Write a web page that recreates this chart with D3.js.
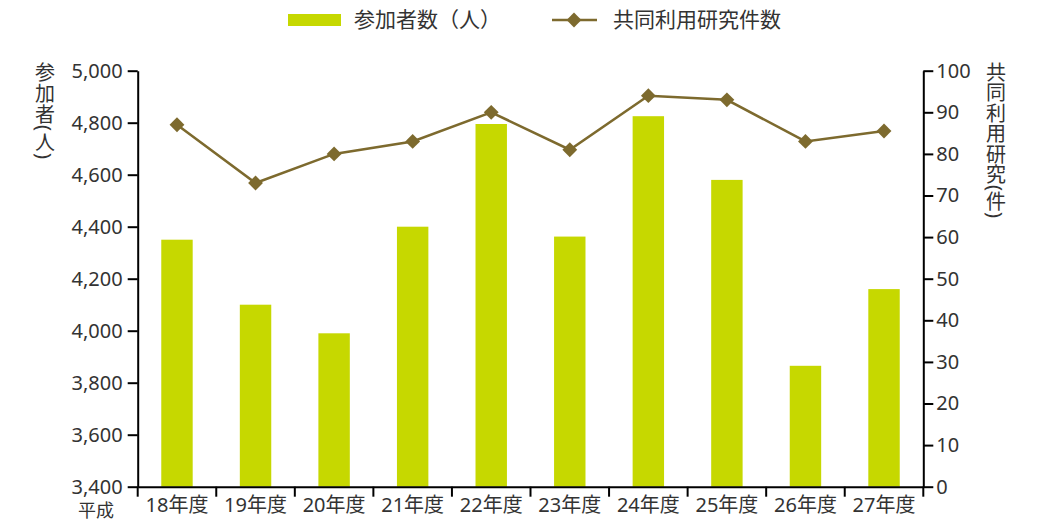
<!DOCTYPE html>
<html>
<head>
<meta charset="utf-8">
<script src="https://cdn.jsdelivr.net/npm/d3@7"></script>
<style>
  body { margin: 0; background: #fff; }
  svg { display: block; font-family: "Noto Sans", "Noto Sans CJK JP", sans-serif; }
  .axis path, .axis line { stroke: #000; stroke-width: 2; }
  .axis text { fill: #333; font-size: 20px; font-family: "Noto Sans", "Noto Sans CJK JP", sans-serif; }
</style>
</head>
<body>
<svg width="1037" height="524"></svg>
<script>
const years = ["18年度", "19年度", "20年度", "21年度", "22年度", "23年度", "24年度", "25年度", "26年度", "27年度"];
const participants = [4350, 4100, 3990, 4400, 4795, 4362, 4825, 4580, 3865, 4160];
const projects = [87, 73, 80, 83, 90, 81, 94, 93, 83, 85.5];
const leftTicks = [3400, 3600, 3800, 4000, 4200, 4400, 4600, 4800, 5000];
const rightTicks = [0, 10, 20, 30, 40, 50, 60, 70, 80, 90, 100];

const svg = d3.select("svg"),
    margin = {top: 70.7, right: 113.7, bottom: 37.3, left: 137.7},
    width = +svg.attr("width") - margin.left - margin.right,
    height = +svg.attr("height") - margin.top - margin.bottom;

const barColor = "#c6d800", lineColor = "#7d6a2e";

const chart = svg.append("g").attr("transform", `translate(${margin.left},${margin.top})`);

const x = d3.scaleBand().domain(years).range([0, width]).padding(0);
const y = d3.scaleLinear().domain([3400, 5000]).range([height, 0]);
const y2 = d3.scaleLinear().domain([0, 100]).range([height, 0]);

const barW = x.bandwidth() * 0.4;

// bars
chart.append("g")
    .selectAll("rect")
    .data(years)
    .join("rect")
    .attr("x", (d, i) => x(d) + (x.bandwidth() - barW) / 2)
    .attr("y", (d, i) => y(participants[i]))
    .attr("width", barW)
    .attr("height", (d, i) => height - y(participants[i]))
    .attr("fill", barColor);

// line
const line = d3.line()
    .x((d, i) => x(years[i]) + x.bandwidth() / 2)
    .y(d => y2(d));

chart.append("path")
    .datum(projects)
    .attr("fill", "none")
    .attr("stroke", lineColor)
    .attr("stroke-width", 2.5)
    .attr("d", line);

const diamond = d3.symbol().type(d3.symbolSquare).size(110);
chart.append("g")
    .selectAll("path")
    .data(projects)
    .join("path")
    .attr("d", diamond)
    .attr("transform", (d, i) => `translate(${x(years[i]) + x.bandwidth() / 2},${y2(d)}) rotate(45)`)
    .attr("fill", lineColor);

// left axis
chart.append("g")
    .attr("class", "axis")
    .call(d3.axisLeft(y).tickValues(leftTicks).tickFormat(d3.format(",")).tickSize(10).tickPadding(5).tickSizeOuter(0));

// right axis
chart.append("g")
    .attr("class", "axis")
    .attr("transform", `translate(${width},0)`)
    .call(d3.axisRight(y2).tickValues(rightTicks).tickSize(10).tickPadding(3).tickSizeOuter(0));

// bottom axis: labels at band centres, ticks at band edges
const xAxis = chart.append("g")
    .attr("class", "axis")
    .attr("transform", `translate(0,${height})`)
    .call(d3.axisBottom(x).tickSize(0).tickPadding(11).tickSizeOuter(0));

xAxis.selectAll(".edge")
    .data(years.concat(["end"]))
    .join("line")
    .attr("class", "edge")
    .attr("x1", (d, i) => i < years.length ? x(d) : x(years[years.length - 1]) + x.bandwidth())
    .attr("x2", (d, i) => i < years.length ? x(d) : x(years[years.length - 1]) + x.bandwidth())
    .attr("y1", 0)
    .attr("y2", 10);

svg.append("text")
    .attr("x", 96)
    .attr("y", 517)
    .attr("text-anchor", "middle")
    .attr("fill", "#333")
    .style("font-size", "18px")
    .text("平成");

// axis titles (vertical)
svg.append("text")
    .attr("x", 44)
    .attr("y", 62)
    .attr("fill", "#333")
    .style("font-size", "20px")
    .style("letter-spacing", "1px")
    .style("writing-mode", "vertical-rl")
    .text("参加者(人)");

svg.append("text")
    .attr("x", 995)
    .attr("y", 62)
    .attr("fill", "#333")
    .style("font-size", "20px")
    .style("letter-spacing", "0.5px")
    .style("writing-mode", "vertical-rl")
    .text("共同利用研究(件)");

// legend
const legend = svg.append("g");
legend.append("rect")
    .attr("x", 288).attr("y", 14)
    .attr("width", 53).attr("height", 12)
    .attr("fill", barColor);
legend.append("text")
    .attr("x", 354).attr("y", 27)
    .attr("fill", "#333")
    .style("font-size", "21px")
    .text("参加者数（人）");
legend.append("line")
    .attr("x1", 552).attr("x2", 597)
    .attr("y1", 20).attr("y2", 20)
    .attr("stroke", lineColor).attr("stroke-width", 2.5);
legend.append("path")
    .attr("d", diamond)
    .attr("transform", "translate(574,20) rotate(45)")
    .attr("fill", lineColor);
legend.append("text")
    .attr("x", 613).attr("y", 27)
    .attr("fill", "#333")
    .style("font-size", "21px")
    .text("共同利用研究件数");
</script>
</body>
</html>
